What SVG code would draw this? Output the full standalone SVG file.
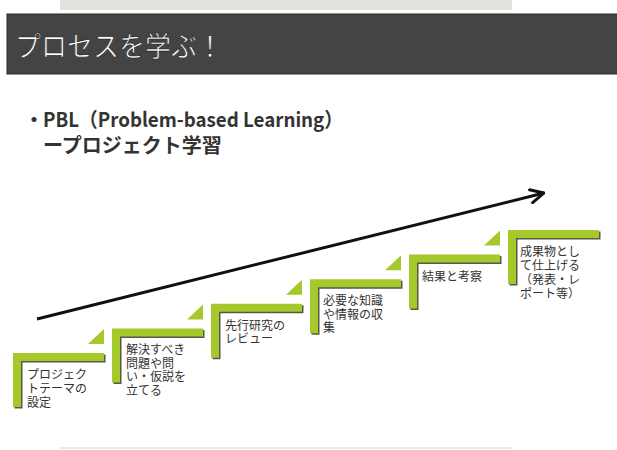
<svg xmlns="http://www.w3.org/2000/svg" width="617" height="450" viewBox="0 0 617 450">
<style>
.bar{fill:#a5c82b}
.sh{fill:#55584a}
.tri{fill:#a5c82b}
.lbl{font-family:"Noto Sans CJK JP","Noto Sans",sans-serif;font-size:12px;fill:#333}
.sub{font-family:"Noto Sans CJK JP","Noto Sans",sans-serif;font-size:20px;font-weight:bold;fill:#333}
.ttl{font-family:"Noto Sans CJK JP","Noto Sans",sans-serif;font-size:26px;fill:#fff;stroke:#222;stroke-width:0.6}
</style>
<defs>
<path id="L" d="M0,0 h91 v8 h-83 v46 h-8 z"/>
<path id="T" d="M75,-9 h16 v-15 z"/>
<marker id="ah" markerUnits="userSpaceOnUse" viewBox="0 0 12 12" refX="11" refY="6" markerWidth="16" markerHeight="16" orient="auto">
<path d="M1,1 L11,6 L1,11" fill="none" stroke="#111" stroke-width="2.2" stroke-linecap="round" stroke-linejoin="round"/>
</marker>
</defs>
<rect width="617" height="450" fill="#fff"/>
<rect x="60" y="0" width="452" height="10" fill="#e2e2de"/>
<g id="title">
<rect x="7" y="14" width="612" height="60" fill="#444" stroke="#2a2a2a" stroke-width="1"/>
<text class="ttl" x="15" y="57" transform="translate(0,-5.7) scale(1,1.1)">プロセスを学ぶ！</text>
</g>
<g id="subtitle">
<text class="sub" x="24" y="127">・<tspan x="43" textLength="300" lengthAdjust="spacingAndGlyphs">PBL（Problem-based Learning）</tspan><tspan x="43" y="153">ープロジェクト学習</tspan></text>
</g>
<g id="connectors">
<line x1="37" y1="319" x2="544" y2="193" stroke="#111" stroke-width="3" marker-end="url(#ah)"/>
</g>
<g id="step1" transform="translate(13,353)">
<use href="#L" class="sh" x="1.5" y="1.5"/><use href="#L" class="bar"/><use href="#T" class="tri"/>
<text class="lbl" x="14" y="26">プロジェク<tspan x="14" dy="14">トテーマの</tspan><tspan x="14" dy="14">設定</tspan></text>
</g>
<g id="step2" transform="translate(112,328.4)">
<use href="#L" class="sh" x="1.5" y="1.5"/><use href="#L" class="bar"/><use href="#T" class="tri"/>
<text class="lbl" x="14" y="26">解決すべき<tspan x="14" dy="13.5">問題や問</tspan><tspan x="14" dy="13.5">い・仮説を</tspan><tspan x="14" dy="13.5">立てる</tspan></text>
</g>
<g id="step3" transform="translate(211,303.8)">
<use href="#L" class="sh" x="1.5" y="1.5"/><use href="#L" class="bar"/><use href="#T" class="tri"/>
<text class="lbl" x="14" y="26">先行研究の<tspan x="14" dy="13.5">レビュー</tspan></text>
</g>
<g id="step4" transform="translate(310,279.2)">
<use href="#L" class="sh" x="1.5" y="1.5"/><use href="#L" class="bar"/><use href="#T" class="tri"/>
<text class="lbl" x="13" y="26">必要な知識<tspan x="13" dy="13.5">や情報の収</tspan><tspan x="13" dy="13.5">集</tspan></text>
</g>
<g id="step5" transform="translate(409,254.6)">
<use href="#L" class="sh" x="1.5" y="1.5"/><use href="#L" class="bar"/><use href="#T" class="tri"/>
<text class="lbl" x="13" y="26">結果と考察</text>
</g>
<g id="step6" transform="translate(508,230)">
<use href="#L" class="sh" x="1.5" y="1.5"/><use href="#L" class="bar"/>
<text class="lbl" x="12" y="26">成果物とし<tspan x="12" dy="14">て仕上げる</tspan><tspan x="12" dy="14">（発表・レ</tspan><tspan x="12" dy="13.5">ポート等）</tspan></text>
</g>
<line x1="60" y1="448" x2="512" y2="448" stroke="#e4e4e4" stroke-width="1.5"/>
</svg>
